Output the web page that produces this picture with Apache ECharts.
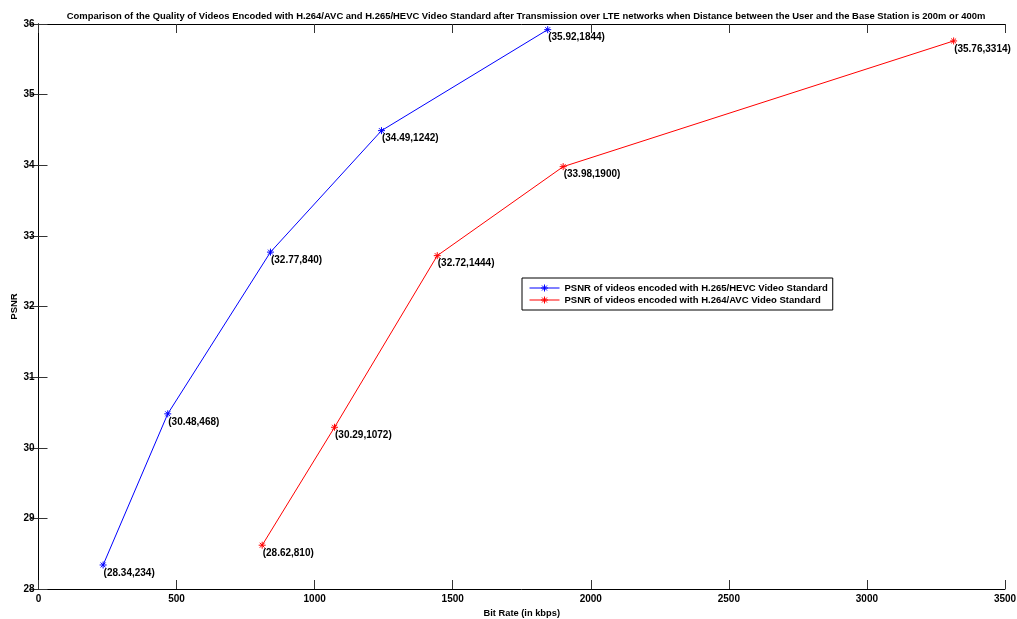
<!DOCTYPE html>
<html>
<head>
<meta charset="utf-8">
<script src="https://cdn.jsdelivr.net/npm/echarts@6/dist/echarts.min.js"></script>
<style>
  html, body { margin: 0; padding: 0; background: #fff; }
  #chart { width: 1017px; height: 619px; }
</style>
</head>
<body>
<div id="chart"></div>
<script>
// Bit rate (kbps) and PSNR (dB) per encoder
const hevcBitRate = [234, 468, 840, 1242, 1844];
const hevcPsnr = [28.34, 30.48, 32.77, 34.49, 35.92];
const avcBitRate = [810, 1072, 1444, 1900, 3314];
const avcPsnr = [28.62, 30.29, 32.72, 33.98, 35.76];

const xTicks = [0, 500, 1000, 1500, 2000, 2500, 3000, 3500];
const yTicks = [28, 29, 30, 31, 32, 33, 34, 35, 36];

const titleText = 'Comparison of the Quality of Videos Encoded with H.264/AVC and H.265/HEVC Video Standard after Transmission over LTE networks when Distance between the User and the Base Station is 200m or 400m';
const hevcName = 'PSNR of videos encoded with H.265/HEVC Video Standard';
const avcName = 'PSNR of videos encoded with H.264/AVC Video Standard';

const FONT = '"Liberation Sans", Arial, sans-serif';
// asterisk marker: plus and cross strokes
const STAR = 'path://M0,-1L0,1M-1,0L1,0M-0.7,-0.7L0.7,0.7M-0.7,0.7L0.7,-0.7';
// legend key: short line segment with an asterisk in the middle
const LEGEND_KEY = 'path://M0,3.5L30,3.5M15,0L15,7M11.5,3.5L18.5,3.5M12.5,1L17.5,6M12.5,6L17.5,1';

function pairs(xs, ys) { return xs.map((x, i) => [x, ys[i]]); }

function makeSeries(name, xs, ys, color) {
  return {
    name: name,
    type: 'line',
    data: pairs(xs, ys),
    symbol: STAR,
    symbolSize: 7,
    showAllSymbol: true,
    lineStyle: { color: color, width: 1 },
    itemStyle: { color: color, borderColor: color, borderWidth: 1 },
    emphasis: { disabled: true },
    label: {
      show: true,
      position: [4.5, 7],
      align: 'left',
      verticalAlign: 'top',
      color: '#000',
      fontFamily: FONT,
      fontWeight: 'bold',
      fontSize: 10,
      formatter: p => '(' + p.value[1].toFixed(2) + ',' + p.value[0] + ')'
    },
    z: 3
  };
}

const axisLine = { show: true, lineStyle: { color: '#000', width: 1 } };
const tickStyle = { show: true, inside: true, length: 9, lineStyle: { color: '#333', width: 1 } };
const labelStyle = { color: '#000', fontFamily: FONT, fontWeight: 'bold', fontSize: 10 };

const chart = echarts.init(document.getElementById('chart'), null, { renderer: 'canvas' });
chart.setOption({
  animation: false,
  backgroundColor: '#fff',
  title: {
    text: titleText,
    left: 521,
    textAlign: 'center',
    top: 7,
    textStyle: { fontFamily: FONT, fontWeight: 'bold', fontSize: 9.45, color: '#000' }
  },
  legend: {
    orient: 'vertical',
    left: 522,
    top: 278,
    padding: [5, 5, 5, 7],
    itemGap: 2,
    itemWidth: 30,
    itemHeight: 7,
    backgroundColor: '#fff',
    borderColor: '#000',
    borderWidth: 1,
    borderRadius: 0,
    itemStyle: { borderWidth: 1 },
    textStyle: { fontFamily: FONT, fontWeight: 'bold', fontSize: 9.5, color: '#000' },
    data: [
      { name: hevcName, icon: LEGEND_KEY },
      { name: avcName, icon: LEGEND_KEY }
    ]
  },
  grid: { left: 38.5, right: 12, top: 24, bottom: 30, containLabel: false, outerBoundsMode: 'none' },
  xAxis: [
    {
      type: 'value', min: xTicks[0], max: xTicks[xTicks.length - 1], interval: 500,
      position: 'bottom',
      name: 'Bit Rate (in kbps)', nameLocation: 'middle', nameGap: 20, nameMoveOverlap: false,
      nameTextStyle: { fontFamily: FONT, fontWeight: 'bold', fontSize: 9.3, color: '#000' },
      axisLine: axisLine, axisTick: tickStyle,
      axisLabel: Object.assign({ margin: 5, formatter: v => String(v) }, labelStyle),
      splitLine: { show: false }
    },
    {
      type: 'value', min: xTicks[0], max: xTicks[xTicks.length - 1], interval: 500,
      position: 'top',
      axisLine: axisLine, axisTick: tickStyle,
      axisLabel: { show: false }, splitLine: { show: false }
    }
  ],
  yAxis: [
    {
      type: 'value', min: yTicks[0], max: yTicks[yTicks.length - 1], interval: 1,
      position: 'left',
      name: 'PSNR', nameLocation: 'middle', nameGap: 19, nameRotate: 90, nameMoveOverlap: false,
      nameTextStyle: { fontFamily: FONT, fontWeight: 'bold', fontSize: 9.5, color: '#000' },
      axisLine: axisLine, axisTick: tickStyle,
      axisLabel: Object.assign({ margin: 4, formatter: v => String(v) }, labelStyle),
      splitLine: { show: false }
    },
    {
      type: 'value', min: yTicks[0], max: yTicks[yTicks.length - 1], interval: 1,
      position: 'right',
      axisLine: axisLine, axisTick: tickStyle,
      axisLabel: { show: false }, splitLine: { show: false }
    }
  ],
  series: [
    makeSeries(hevcName, hevcBitRate, hevcPsnr, '#0000ff'),
    makeSeries(avcName, avcBitRate, avcPsnr, '#ff0000')
  ]
});
</script>
</body>
</html>
